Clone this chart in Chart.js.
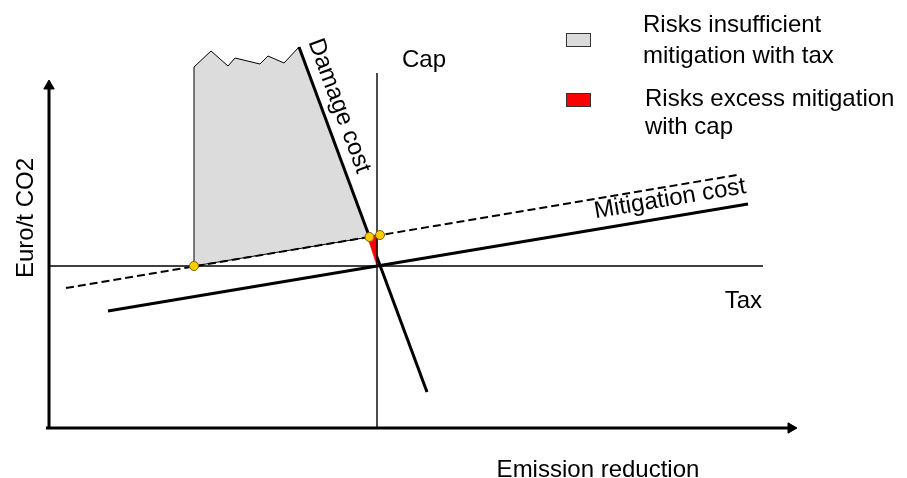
<!DOCTYPE html>
<html>
<head>
<meta charset="utf-8">
<script src="https://cdn.jsdelivr.net/npm/chart.js@4.4.1/dist/chart.umd.min.js"></script>
<style>
html, body { margin: 0; padding: 0; background: #fff; }
#wrap { width: 907px; height: 478px; }
</style>
</head>
<body>
<div id="wrap"><canvas id="chart" width="907" height="478"></canvas></div>
<script>
// Schema: x = emission reduction, y = Euro/t CO2 (unités arbitraires)
const xAxisLine = [{x: -0.3, y: 0}, {x: 74.2, y: 0}];
const yAxisLine = [{x: 0, y: 0}, {x: 0, y: 34.2}];
const taxLine = [{x: 0, y: 16.2}, {x: 71.4, y: 16.2}];
const capLine = [{x: 32.8, y: 0}, {x: 32.8, y: 35.5}];
const mitigationCost = [{x: 5.9, y: 11.7}, {x: 69.9, y: 22.4}];
const mitigationUncertain = [{x: 1.7, y: 14.0}, {x: 68.8, y: 25.3}];
const damageCost = [{x: 25.0, y: 38.1}, {x: 37.8, y: 3.6}];

// zone grise : risque de mitigation insuffisante avec une taxe
const insufficientArea = [
    {x: 14.5, y: 16.2}, {x: 14.5, y: 36.1}, {x: 16.2, y: 37.7}, {x: 17.9, y: 36.2},
    {x: 18.6, y: 37.0}, {x: 21.1, y: 36.4}, {x: 21.9, y: 37.2}, {x: 23.5, y: 36.5},
    {x: 25.0, y: 38.1}, {x: 32.05, y: 19.1}, {x: 14.5, y: 16.2}
];
// zone rouge : risque de mitigation excessive avec un plafond
const excessArea = [
    {x: 31.85, y: 19.1}, {x: 32.85, y: 19.3}, {x: 32.8, y: 16.2}, {x: 31.85, y: 19.1}
];
const crossPoints = [{x: 14.5, y: 16.2}, {x: 32.05, y: 19.1}, {x: 33.1, y: 19.3}];

const legendLabels = [
    ['Risks insufficient', 'mitigation with tax'],
    ['Risks excess mitigation', 'with cap']
];
const axisTitles = {x: 'Emission reduction', y: 'Euro/t CO2'};

const FONT = '24px "Liberation Sans", Arial, sans-serif';

// textes posés dans le repère des données (ligne de base alphabétique sauf "middle")
const textLabels = [
    {text: 'Damage cost', x: 29.0, y: 32.2, along: damageCost, align: 'center', base: 'middle'},
    {text: 'Mitigation cost', x: 62.1, y: 22.9, along: mitigationCost, align: 'center', base: 'middle'},
    {text: 'Cap', x: 35.3, y: 36.1, align: 'left'},
    {text: 'Tax', x: 71.3, y: 12.0, align: 'right'},
    {text: axisTitles.y, x: -1.6, y: 21.0, angle: -Math.PI / 2, align: 'center'},
    {text: axisTitles.x, x: 54.9, y: -4.9, align: 'center'}
];

function arrowLine(data, rot, color) {
    return {
        data: data,
        showLine: true,
        borderColor: color,
        backgroundColor: color,
        borderWidth: 3,
        pointStyle: 'triangle',
        pointRotation: rot,
        pointRadius: ctx => ctx.dataIndex === data.length - 1 ? 6 : 0,
        pointBorderWidth: 1,
        order: 1
    };
}

const textPlugin = {
    id: 'textLabels',
    afterDatasetsDraw(chart) {
        const {ctx, scales: {x, y}} = chart;
        ctx.save();
        ctx.fillStyle = '#000';
        ctx.font = FONT;
        textLabels.forEach(l => {
            let angle = l.angle || 0;
            if (l.along) {
                const p1 = l.along[0], p2 = l.along[1];
                angle = Math.atan2(y.getPixelForValue(p2.y) - y.getPixelForValue(p1.y),
                                   x.getPixelForValue(p2.x) - x.getPixelForValue(p1.x));
            }
            ctx.save();
            ctx.translate(x.getPixelForValue(l.x), y.getPixelForValue(l.y));
            ctx.rotate(angle);
            ctx.textAlign = l.align;
            ctx.textBaseline = l.base || 'alphabetic';
            ctx.fillText(l.text, 0, 0);
            ctx.restore();
        });
        ctx.restore();
    }
};

const legendPlugin = {
    id: 'customLegend',
    afterDraw(chart) {
        const ctx = chart.ctx;
        const areas = [chart.data.datasets[0], chart.data.datasets[1]];
        const boxes = [{bx: 566, by: 33, tx: 643, ty: 32, gap: 31}, {bx: 566, by: 93, tx: 645, ty: 106, gap: 28}];
        ctx.save();
        ctx.font = FONT;
        ctx.textBaseline = 'alphabetic';
        ctx.textAlign = 'left';
        areas.forEach((ds, i) => {
            const b = boxes[i];
            ctx.fillStyle = ds.backgroundColor;
            ctx.fillRect(b.bx, b.by, 25, 14);
            ctx.strokeStyle = '#333';
            ctx.lineWidth = 1;
            ctx.strokeRect(b.bx + 0.5, b.by + 0.5, 24, 13);
            ctx.fillStyle = '#000';
            legendLabels[i].forEach((line, j) => ctx.fillText(line, b.tx, b.ty + j * b.gap));
        });
        ctx.restore();
    }
};

new Chart(document.getElementById('chart'), {
    type: 'scatter',
    data: {
        datasets: [
            {
                label: legendLabels[0].join(' '),
                data: insufficientArea,
                showLine: true,
                fill: 'shape',
                backgroundColor: '#dcdcdc',
                borderColor: '#000',
                borderWidth: 1,
                pointRadius: 0,
                order: 10
            },
            {
                label: legendLabels[1].join(' '),
                data: excessArea,
                showLine: true,
                fill: 'shape',
                backgroundColor: '#ff0000',
                borderColor: '#ff0000',
                borderWidth: 0.5,
                pointRadius: 0,
                order: 1
            },
            arrowLine(xAxisLine, 90, '#000'),
            arrowLine(yAxisLine, 0, '#000'),
            {data: taxLine, showLine: true, borderColor: '#000', borderWidth: 1.6, pointRadius: 0, order: 3},
            {data: capLine, showLine: true, borderColor: '#000', borderWidth: 1.4, pointRadius: 0, order: 0.5},
            {data: mitigationUncertain, showLine: true, borderColor: '#000', borderWidth: 2,
                borderDash: [8, 4], pointRadius: 0, order: 2},
            {data: mitigationCost, showLine: true, borderColor: '#000', borderWidth: 3, pointRadius: 0, order: 2},
            {data: damageCost, showLine: true, borderColor: '#000', borderWidth: 3, pointRadius: 0, order: 2},
            {data: crossPoints, showLine: false, pointRadius: 4.5, pointBackgroundColor: '#ffcc00',
                pointBorderColor: '#7a6200', pointBorderWidth: 1, order: 0}
        ]
    },
    options: {
        responsive: false,
        animation: false,
        events: [],
        layout: {padding: 0, autoPadding: false},
        scales: {
            x: {type: 'linear', display: false, min: -4.9, max: 85.8},
            y: {type: 'linear', display: false, min: -5.0, max: 42.8}
        },
        elements: {line: {tension: 0}},
        plugins: {
            legend: {display: false},
            tooltip: {enabled: false}
        }
    },
    plugins: [textPlugin, legendPlugin]
});
</script>
</body>
</html>
